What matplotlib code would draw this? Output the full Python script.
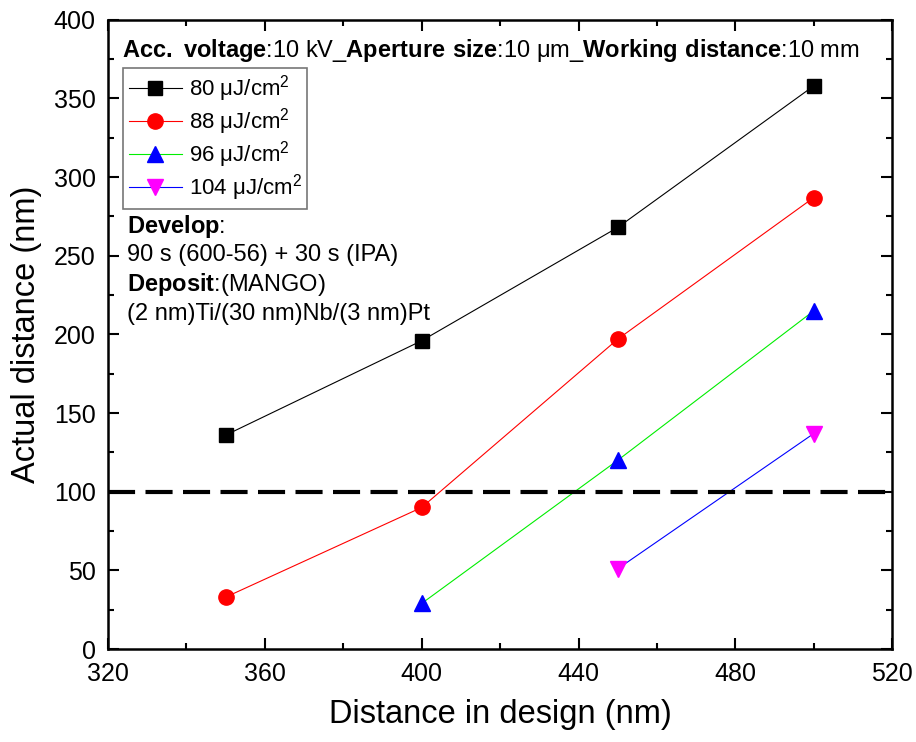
import numpy as np
import matplotlib.pyplot as plt
from matplotlib.ticker import MultipleLocator

plt.rcParams['font.family'] = ['Liberation Sans', 'DejaVu Sans']
plt.rcParams['mathtext.fontset'] = 'custom'
plt.rcParams['mathtext.rm'] = 'Liberation Sans'
plt.rcParams['mathtext.bf'] = 'Liberation Sans:bold'

# data
x80 = [350, 400, 450, 500]
y80 = [136, 196, 268, 358]
x88 = [350, 400, 450, 500]
y88 = [33, 90, 197, 287]
x96 = [400, 450, 500]
y96 = [29, 120, 215]
x104 = [450, 500]
y104 = [51, 137]
labels = ['80 \u03bcJ/cm$^2$', '88 \u03bcJ/cm$^2$', '96 \u03bcJ/cm$^2$', '104 \u03bcJ/cm$^2$']
threshold = 100

fig = plt.figure(figsize=(9.16, 7.42), dpi=100)
ax = fig.add_axes([0.118, 0.1253, 0.856, 0.848])

ax.plot(x80, y80, '-', color='black', lw=0.8, marker='s', ms=10, mfc='black', mec='black', label=labels[0])
ax.plot(x88, y88, '-', color='red', lw=0.8, marker='o', ms=11, mfc='red', mec='red', label=labels[1])
ax.plot(x96, y96, '-', color='#00ee00', lw=0.8, marker='^', ms=11, mfc='blue', mec='blue', label=labels[2])
ax.plot(x104, y104, '-', color='blue', lw=0.8, marker='v', ms=11, mfc='magenta', mec='magenta', label=labels[3])
ax.axhline(threshold, color='black', lw=3, dashes=(6.5, 2.5))

ax.set_xlim(320, 520)
ax.set_ylim(0, 400)
ax.xaxis.set_major_locator(MultipleLocator(40))
ax.xaxis.set_minor_locator(MultipleLocator(20))
ax.yaxis.set_major_locator(MultipleLocator(50))
ax.yaxis.set_minor_locator(MultipleLocator(25))
ax.tick_params(which='both', direction='in', top=True, right=True, width=1.5, labelsize=18)
ax.tick_params(which='major', length=8, pad=9)
ax.tick_params(which='minor', length=4)
for s in ax.spines.values():
    s.set_linewidth(1.8)

ax.set_xlabel('Distance in design (nm)', fontsize=23.5, labelpad=10)
ax.set_ylabel('Actual distance (nm)', fontsize=23.5, labelpad=8)

txt = 17
ax.text(0.018, 0.952, r'$\bf{Acc.}$ $\bf{voltage}$:10 kV_$\bf{Aperture\ size}$:10 ' + '\u03bcm_' + r'$\bf{Working\ distance}$:10 mm',
        transform=ax.transAxes, fontsize=txt, va='center')
ax.text(0.024, 0.671, r'$\bf{Develop}$:', transform=ax.transAxes, fontsize=txt, va='center')
ax.text(0.024, 0.626, '90 s (600-56) + 30 s (IPA)', transform=ax.transAxes, fontsize=txt, va='center')
ax.text(0.024, 0.579, r'$\bf{Deposit}$:(MANGO)', transform=ax.transAxes, fontsize=txt, va='center')
ax.text(0.024, 0.532, '(2 nm)Ti/(30 nm)Nb/(3 nm)Pt', transform=ax.transAxes, fontsize=txt, va='center')

leg = ax.legend(loc='upper left', bbox_to_anchor=(0.019, 0.924), fontsize=16, frameon=True,
                fancybox=False, edgecolor='#555555', handlelength=2.4, labelspacing=0.1,
                borderpad=0.25, handletextpad=0.3, borderaxespad=0.0)
leg.get_frame().set_linewidth(1.2)

plt.savefig('out.png', dpi=100)
